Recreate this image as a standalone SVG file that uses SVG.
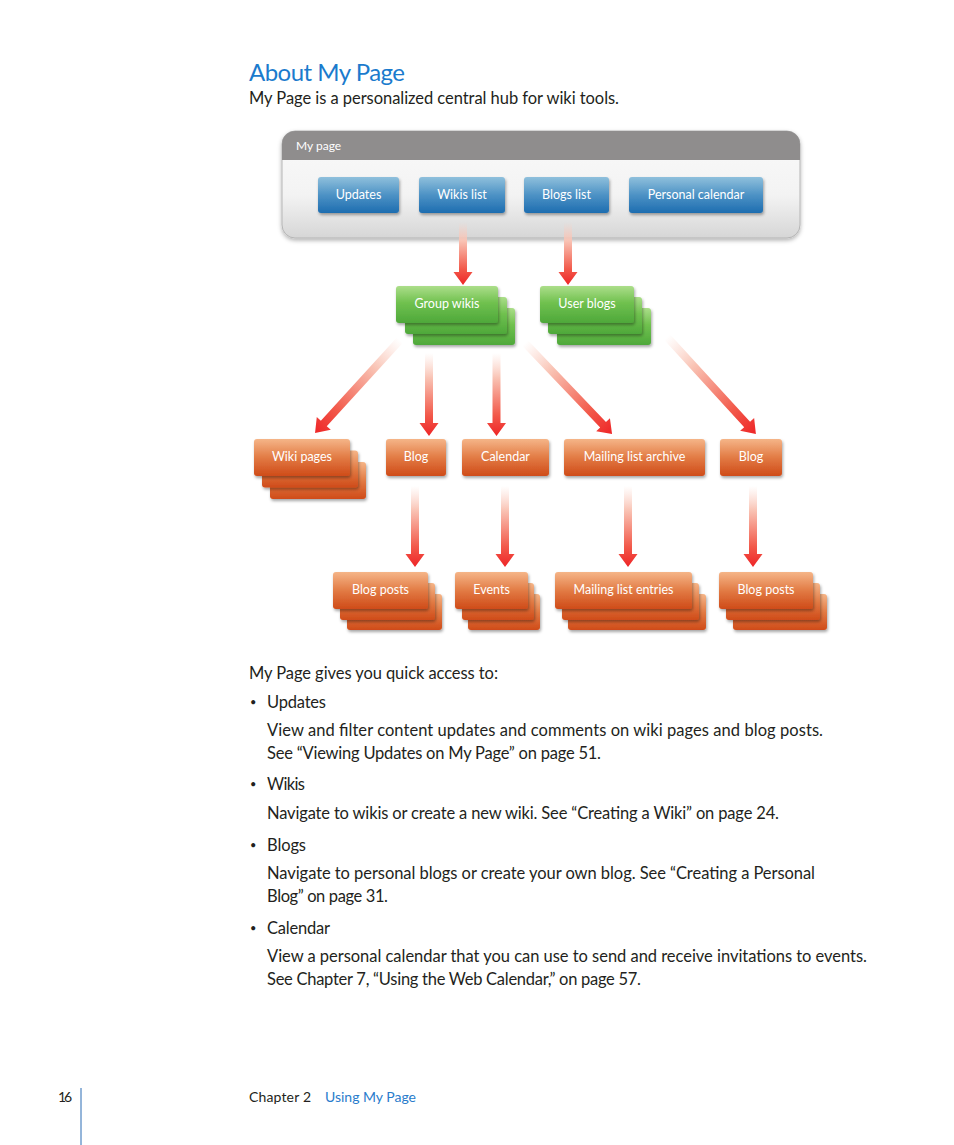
<svg xmlns="http://www.w3.org/2000/svg" width="954" height="1145" viewBox="0 0 954 1145">
<defs>
  <linearGradient id="gBlue" x1="0" y1="0" x2="0" y2="1">
    <stop offset="0" stop-color="#8fc0dc"/>
    <stop offset="0.5" stop-color="#4d92c5"/>
    <stop offset="1" stop-color="#1d6db0"/>
  </linearGradient>
  <linearGradient id="gGreen" x1="0" y1="0" x2="0" y2="1">
    <stop offset="0" stop-color="#acde8a"/>
    <stop offset="0.45" stop-color="#70c14f"/>
    <stop offset="1" stop-color="#4ea83a"/>
  </linearGradient>
  <linearGradient id="gOrange" x1="0" y1="0" x2="0" y2="1">
    <stop offset="0" stop-color="#f5b588"/>
    <stop offset="0.5" stop-color="#e27b44"/>
    <stop offset="1" stop-color="#cf4b19"/>
  </linearGradient>
  <linearGradient id="gPanel" x1="0" y1="0" x2="0" y2="1">
    <stop offset="0" stop-color="#fafafa"/>
    <stop offset="0.6" stop-color="#f3f3f3"/>
    <stop offset="1" stop-color="#d6d6d6"/>
  </linearGradient>
  <linearGradient id="gArrow" x1="0" y1="0" x2="0" y2="1">
    <stop offset="0" stop-color="#fbd2c6" stop-opacity="0"/>
    <stop offset="0.3" stop-color="#f9c3b4"/>
    <stop offset="0.75" stop-color="#f2594a"/>
    <stop offset="1" stop-color="#ee2527"/>
  </linearGradient>
  <filter id="shadow" x="-10%" y="-20%" width="130%" height="160%">
    <feDropShadow dx="1" dy="2" stdDeviation="1.5" flood-color="#000" flood-opacity="0.35"/>
  </filter>
  <filter id="pshadow" x="-5%" y="-10%" width="110%" height="130%">
    <feDropShadow dx="0" dy="2" stdDeviation="2" flood-color="#000" flood-opacity="0.3"/>
  </filter>
</defs>
<style>
  .txt { font-family: Lato, "Open Sans", "Liberation Sans", sans-serif; fill: #231f20; }
  .body { font-size: 16.5px; }
  .bul { font-size: 11px; }
  .lbl { font-family: Lato, "Open Sans", "Liberation Sans", sans-serif; font-size: 12.5px; fill: #ffffff; text-anchor: middle; }
  .blue { fill: url(#gBlue); filter: url(#shadow); }
  .green { fill: url(#gGreen); filter: url(#shadow); }
  .orange { fill: url(#gOrange); filter: url(#shadow); }
  .arrow { fill: url(#gArrow); }
</style>
<rect width="954" height="1145" fill="#ffffff"/>

<!-- Page text -->
<text class="txt" x="249" y="81" font-size="24" style="fill:#1b7bcd" textLength="156">About My Page</text>
<text class="txt body" x="249" y="104" textLength="370">My Page is a personalized central hub for wiki tools.</text>

<!-- Container node -->
<g id="my-page">
  <rect x="282" y="131" width="518" height="107" rx="13" fill="url(#gPanel)" stroke="#b5b5b5" stroke-width="1" filter="url(#pshadow)"/>
  <path d="M282,160 V144 A13,13 0 0 1 295,131 H787 A13,13 0 0 1 800,144 V160 Z" fill="#8f8d8d"/>
  <text x="296" y="150" font-family="Lato, 'Open Sans', 'Liberation Sans', sans-serif" font-size="12" fill="#ffffff">My page</text>
</g>

<!-- Connectors -->
<g id="connectors">
  <path class="arrow" transform="translate(463,222)" d="M-4,0 H4 V50 H9.5 L0,63 L-9.5,50 H-4 Z"/>
  <path class="arrow" transform="translate(568,222)" d="M-4,0 H4 V50 H9.5 L0,63 L-9.5,50 H-4 Z"/>
  <path class="arrow" transform="translate(400,340) rotate(42.4)" d="M-4,0 H4 V113 H9.5 L0,126 L-9.5,113 H-4 Z"/>
  <path class="arrow" transform="translate(429,353)" d="M-4,0 H4 V70 H9.5 L0,83 L-9.5,70 H-4 Z"/>
  <path class="arrow" transform="translate(496.5,353)" d="M-4,0 H4 V70 H9.5 L0,83 L-9.5,70 H-4 Z"/>
  <path class="arrow" transform="translate(525,343) rotate(-43.7)" d="M-4,0 H4 V113 H9.5 L0,126 L-9.5,113 H-4 Z"/>
  <path class="arrow" transform="translate(667,337) rotate(-42.5)" d="M-4,0 H4 V118.6 H9.5 L0,131.6 L-9.5,118.6 H-4 Z"/>
  <path class="arrow" transform="translate(415,486)" d="M-4,0 H4 V68 H9.5 L0,81 L-9.5,68 H-4 Z"/>
  <path class="arrow" transform="translate(505,486)" d="M-4,0 H4 V68 H9.5 L0,81 L-9.5,68 H-4 Z"/>
  <path class="arrow" transform="translate(628,486)" d="M-4,0 H4 V68 H9.5 L0,81 L-9.5,68 H-4 Z"/>
  <path class="arrow" transform="translate(753,486)" d="M-4,0 H4 V68 H9.5 L0,81 L-9.5,68 H-4 Z"/>
</g>

<!-- Blue buttons -->
<g id="updates">
  <rect class="blue" x="318" y="177" width="81" height="36" rx="3"/>
  <text class="lbl" x="358.5" y="199">Updates</text>
</g>
<g id="wikis-list">
  <rect class="blue" x="419" y="177" width="86" height="36" rx="3"/>
  <text class="lbl" x="462" y="199">Wikis list</text>
</g>
<g id="blogs-list">
  <rect class="blue" x="524" y="177" width="85" height="36" rx="3"/>
  <text class="lbl" x="566.5" y="199">Blogs list</text>
</g>
<g id="personal-calendar">
  <rect class="blue" x="629" y="177" width="134" height="36" rx="3"/>
  <text class="lbl" x="696" y="199">Personal calendar</text>
</g>

<!-- Green stacks -->
<g id="group-wikis">
  <rect class="green" x="413" y="308" width="102" height="37" rx="3"/>
  <rect class="green" x="405" y="297" width="102" height="37" rx="3"/>
  <rect class="green" x="396" y="286" width="102" height="37" rx="3"/>
  <text class="lbl" x="447" y="308">Group wikis</text>
</g>
<g id="user-blogs">
  <rect class="green" x="557" y="308" width="94" height="37" rx="3"/>
  <rect class="green" x="548" y="297" width="94" height="37" rx="3"/>
  <rect class="green" x="540" y="286" width="94" height="37" rx="3"/>
  <text class="lbl" x="587" y="308">User blogs</text>
</g>

<!-- Orange middle row -->
<g id="wiki-pages">
  <rect class="orange" x="270" y="462" width="96" height="37" rx="3"/>
  <rect class="orange" x="262" y="450.5" width="96" height="37" rx="3"/>
  <rect class="orange" x="254" y="439" width="96" height="37" rx="3"/>
  <text class="lbl" x="302" y="461">Wiki pages</text>
</g>
<g id="blog-1">
  <rect class="orange" x="386" y="439" width="60" height="37" rx="3"/>
  <text class="lbl" x="416" y="461">Blog</text>
</g>
<g id="calendar">
  <rect class="orange" x="462" y="439" width="87" height="37" rx="3"/>
  <text class="lbl" x="505.5" y="461">Calendar</text>
</g>
<g id="mailing-list-archive">
  <rect class="orange" x="564" y="439" width="141" height="37" rx="3"/>
  <text class="lbl" x="634.5" y="461">Mailing list archive</text>
</g>
<g id="blog-2">
  <rect class="orange" x="720" y="439" width="62" height="37" rx="3"/>
  <text class="lbl" x="751" y="461">Blog</text>
</g>

<!-- Orange bottom row -->
<g id="blog-posts-1">
  <rect class="orange" x="347" y="594" width="95" height="36" rx="3"/>
  <rect class="orange" x="340" y="583" width="95" height="37" rx="3"/>
  <rect class="orange" x="333" y="572" width="95" height="37" rx="3"/>
  <text class="lbl" x="380.5" y="594">Blog posts</text>
</g>
<g id="events">
  <rect class="orange" x="468" y="594" width="72" height="36" rx="3"/>
  <rect class="orange" x="462" y="583" width="72" height="37" rx="3"/>
  <rect class="orange" x="455" y="572" width="73" height="37" rx="3"/>
  <text class="lbl" x="491.5" y="594">Events</text>
</g>
<g id="mailing-list-entries">
  <rect class="orange" x="568" y="594" width="138" height="36" rx="3"/>
  <rect class="orange" x="562" y="583" width="137" height="37" rx="3"/>
  <rect class="orange" x="555" y="572" width="137" height="37" rx="3"/>
  <text class="lbl" x="623.5" y="594">Mailing list entries</text>
</g>
<g id="blog-posts-2">
  <rect class="orange" x="733" y="594" width="94" height="36" rx="3"/>
  <rect class="orange" x="726" y="583" width="94" height="37" rx="3"/>
  <rect class="orange" x="719" y="572" width="94" height="37" rx="3"/>
  <text class="lbl" x="766" y="594">Blog posts</text>
</g>

<!-- Body text -->
<g class="txt body">
  <text x="249" y="679" textLength="249">My Page gives you quick access to:</text>
  <text class="bul" x="250" y="706">•</text>
  <text x="267" y="708" textLength="59">Updates</text>
  <text x="267" y="736" textLength="556">View and filter content updates and comments on wiki pages and blog posts.</text>
  <text x="267" y="759" textLength="334">See “Viewing Updates on My Page” on page 51.</text>
  <text class="bul" x="250" y="788">•</text>
  <text x="267" y="790" textLength="38">Wikis</text>
  <text x="267" y="819" textLength="512">Navigate to wikis or create a new wiki. See “Creating a Wiki” on page 24.</text>
  <text class="bul" x="250" y="849">•</text>
  <text x="267" y="851" textLength="39">Blogs</text>
  <text x="267" y="879" textLength="548">Navigate to personal blogs or create your own blog. See “Creating a Personal</text>
  <text x="267" y="902" textLength="121">Blog” on page 31.</text>
  <text class="bul" x="250" y="932">•</text>
  <text x="267" y="934" textLength="63">Calendar</text>
  <text x="267" y="962" textLength="600">View a personal calendar that you can use to send and receive invitations to events.</text>
  <text x="267" y="985" textLength="374">See Chapter 7, “Using the Web Calendar,” on page 57.</text>
</g>

<!-- Footer -->
<line x1="81" y1="1088" x2="81" y2="1145" stroke="#2a6db5" stroke-width="1"/>
<text class="txt" x="58" y="1102" font-size="14" textLength="14">16</text>
<text class="txt" x="249" y="1102" font-size="14" textLength="62">Chapter 2</text>
<text x="325" y="1102" font-family="Lato, 'Open Sans', 'Liberation Sans', sans-serif" font-size="14" fill="#2a7ccc" textLength="91">Using My Page</text>
</svg>
